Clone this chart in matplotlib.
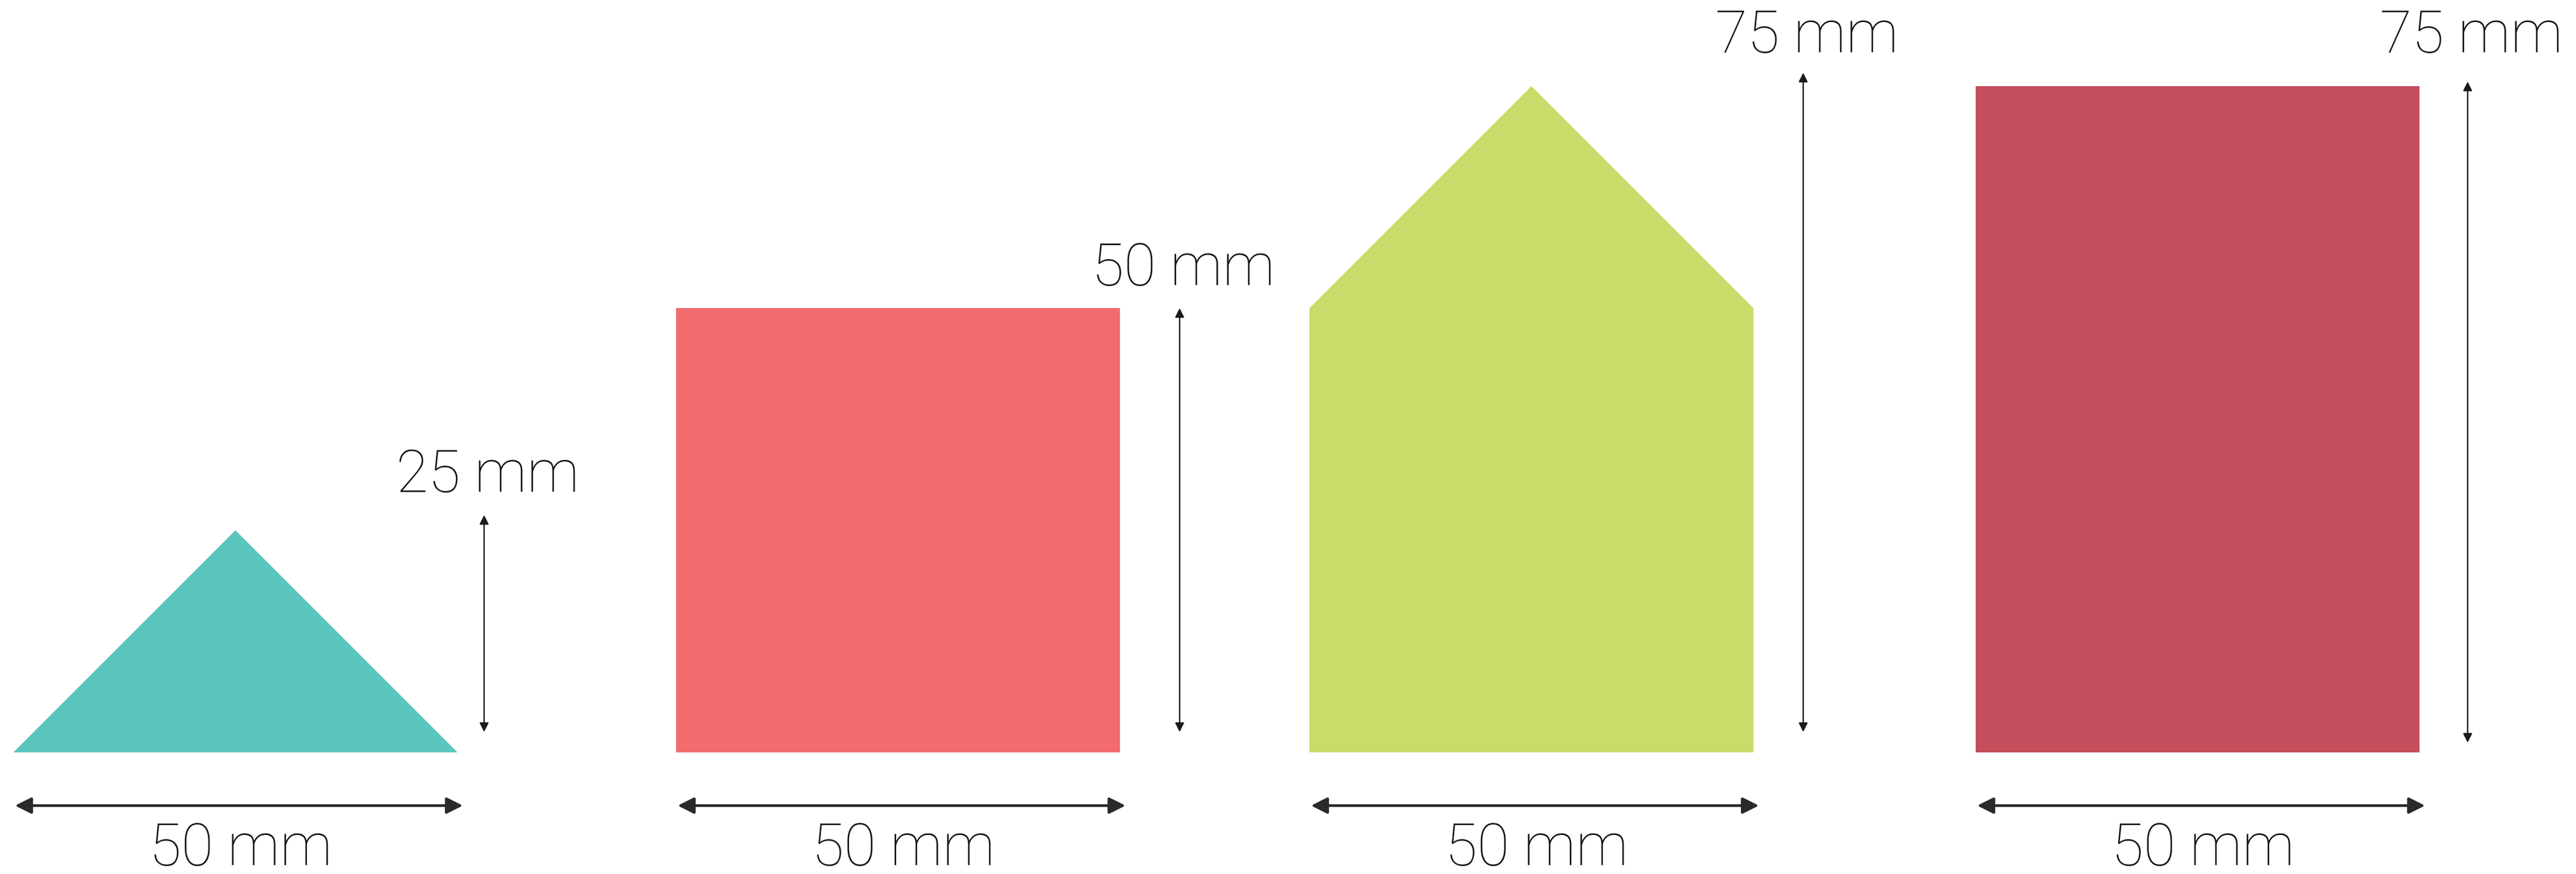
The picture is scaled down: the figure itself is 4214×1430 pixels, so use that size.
import matplotlib
matplotlib.use("Agg")
import matplotlib.pyplot as plt
from matplotlib.patches import Polygon, FancyArrowPatch

# shape sizes in mm
shapes = ["triangle", "square", "house", "rectangle"]
widths = [50, 50, 50, 50]
heights = [25, 50, 75, 75]
body_heights = [0, 50, 50, 75]   # straight walls before the roof
colors = ["#5CC4BF", "#F26B6E", "#C9DC69", "#C44E5C"]

x_starts = [1.5, 76.1, 147.4, 222.4]
vert_arrow_x = [54.5, 132.8, 203.0, 277.8]
vert_arrow_top = [26.9, 50.2, 76.7, 75.7]
vert_arrow_bot = [2.1, 2.1, 2.1, 0.9]


def outline(x0, w, h, body):
    if body == 0:
        return [(x0, 0), (x0 + w / 2, h), (x0 + w, 0)]
    if body >= h:
        return [(x0, 0), (x0, h), (x0 + w, h), (x0 + w, 0)]
    return [(x0, 0), (x0, body), (x0 + w / 2, h), (x0 + w, body), (x0 + w, 0)]


fig = plt.figure(figsize=(42.14, 14.30), dpi=100)
ax = fig.add_axes([0, 0, 1, 1])
ax.set_xlim(0, 290.0)
ax.set_ylim(-13.7, 84.7)
ax.axis("off")

font = dict(family=["Roboto", "DejaVu Sans"], fontweight="light",
            fontsize=69, color="#111111")

for i, name in enumerate(shapes):
    x0, w, h = x_starts[i], widths[i], heights[i]
    ax.add_patch(Polygon(outline(x0, w, h, body_heights[i]), closed=True,
                         facecolor=colors[i], edgecolor="none"))

    # width dimension
    ax.add_patch(FancyArrowPatch((x0, -6.0), (x0 + w + 0.8, -6.0),
                                 arrowstyle="<|-|>", mutation_scale=40,
                                 lw=3.2, color="#2a2a2a"))
    ax.text(x0 + w / 2 + 0.6, -10.9, f"{w} mm", ha="center", va="center", **font)

    # height dimension
    ax.add_patch(FancyArrowPatch((vert_arrow_x[i], vert_arrow_bot[i]),
                                 (vert_arrow_x[i], vert_arrow_top[i]),
                                 arrowstyle="<|-|>", mutation_scale=22,
                                 lw=1.6, color="#1a1a1a"))
    ax.text(vert_arrow_x[i] + 0.4, vert_arrow_top[i] + 4.2 if i < 2 else 80.6,
            f"{h} mm", ha="center", va="center", **font)

fig.savefig("out.png", dpi=100)
